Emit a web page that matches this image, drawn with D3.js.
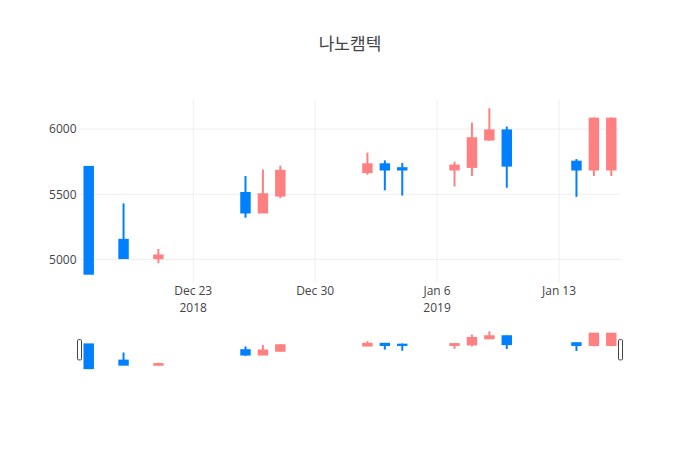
<!DOCTYPE html>
<html>
<head>
<meta charset="utf-8">
<script src="https://cdn.jsdelivr.net/npm/d3@7"></script>
<style>
  body { margin: 0; background: #fff; }
  svg text { font-family: "Open Sans", "Noto Sans CJK KR", sans-serif; fill: #444; }
</style>
</head>
<body>
<div id="chart"></div>
<script>
let dates = ["2018-12-17", "2018-12-19", "2018-12-21", "2018-12-26", "2018-12-27", "2018-12-28",
             "2019-01-02", "2019-01-03", "2019-01-04", "2019-01-07", "2019-01-08", "2019-01-09",
             "2019-01-10", "2019-01-14", "2019-01-15", "2019-01-16"];
let open  = [5710, 5150, 5010, 5510, 5360, 5490, 5670, 5730, 5700, 5690, 5710, 5920, 5990, 5750, 5690, 5690];
let high  = [5710, 5430, 5080, 5640, 5690, 5720, 5820, 5760, 5740, 5750, 6050, 6160, 6020, 5770, 6090, 6090];
let low   = [4890, 5010, 4970, 5320, 5360, 5470, 5650, 5530, 5490, 5560, 5640, 5910, 5550, 5480, 5640, 5640];
let close = [4890, 5010, 5030, 5360, 5500, 5680, 5730, 5690, 5690, 5720, 5930, 5990, 5720, 5690, 6080, 6080];

let yTicks = [5000, 5500, 6000];
let xTicks = ["2018-12-23", "2018-12-30", "2019-01-06", "2019-01-13"];
let xTickLabels = [["Dec 23", "2018"], ["Dec 30"], ["Jan 6", "2019"], ["Jan 13"]];

let title = "나노캠텍";

let width = 700, height = 450;
let margin = { left: 80, right: 80, top: 100 };
let plotBottom = 282;
let slider = { top: 329.5, bottom: 370 };

let incColor = "#ff8080", decColor = "#0080ff";

let parse = d3.utcParse("%Y-%m-%d");
let data = dates.map((d, i) => {
  return { date: parse(d), open: open[i], high: high[i], low: low[i], close: close[i] };
});

let svg = d3.select("#chart").append("svg")
  .attr("width", width)
  .attr("height", height);

// half a day of padding each side, like plotly
let first = d3.utcHour.offset(data[0].date, -12);
let last = d3.utcHour.offset(data[data.length - 1].date, 12);
let xScale = d3.scaleUtc()
  .domain([first, last])
  .range([margin.left, width - margin.right]);

let lo = d3.min(data, d => d.low), hi = d3.max(data, d => d.high);
let pad = (hi - lo) * 0.05;
let yScale = d3.scaleLinear()
  .domain([lo - pad, hi + pad])
  .range([plotBottom, margin.top]);
let ySlider = d3.scaleLinear()
  .domain([lo - pad, hi + pad])
  .range([slider.bottom, slider.top]);

let dayPx = xScale(d3.utcDay.offset(first, 1)) - xScale(first);
let boxW = dayPx * 0.6 - 2;

// title
svg.append("text")
  .attr("x", width / 2)
  .attr("y", 50)
  .attr("text-anchor", "middle")
  .style("font-size", "17px")
  .text(title);

// grid
let grid = svg.append("g");
grid.selectAll(".ygrid")
  .data(yTicks)
  .enter().append("line")
    .attr("x1", margin.left)
    .attr("x2", width - margin.right)
    .attr("y1", d => yScale(d))
    .attr("y2", d => yScale(d))
    .attr("stroke", "#eee");
grid.selectAll(".xgrid")
  .data(xTicks)
  .enter().append("line")
    .attr("x1", d => xScale(parse(d)))
    .attr("x2", d => xScale(parse(d)))
    .attr("y1", margin.top)
    .attr("y2", plotBottom)
    .attr("stroke", "#eee");

// y axis labels
let yAxis = d3.axisLeft(yScale)
  .tickValues(yTicks)
  .tickFormat(d3.format("d"))
  .tickSize(0)
  .tickPadding(3);
svg.append("g")
  .attr("transform", `translate(${ margin.left - 0.5 },0)`)
  .call(yAxis)
  .call(g => g.select(".domain").remove())
  .selectAll("text")
    .style("font-size", "12px")
    .attr("fill", "#444");

// x axis labels
let xLab = svg.append("g");
xTicks.forEach((t, i) => {
  let txt = xLab.append("text")
    .attr("x", xScale(parse(t)))
    .attr("y", 295)
    .attr("text-anchor", "middle")
    .style("font-size", "12px");
  xTickLabels[i].forEach((line, j) => {
    txt.append("tspan")
      .attr("x", xScale(parse(t)))
      .attr("dy", j == 0 ? 0 : 16.5)
      .text(line);
  });
});

svg.append("clipPath").attr("id", "plotclip")
  .append("rect")
    .attr("x", margin.left)
    .attr("y", margin.top)
    .attr("width", width - margin.left - margin.right)
    .attr("height", plotBottom - margin.top);

function drawCandles(g, y) {
  let c = g.selectAll(".candle")
    .data(data)
    .enter().append("g")
      .attr("class", "candle");
  let col = d => d.close >= d.open ? incColor : decColor;
  c.append("line")
    .attr("x1", d => xScale(d.date))
    .attr("x2", d => xScale(d.date))
    .attr("y1", d => y(d.high))
    .attr("y2", d => y(d.low))
    .attr("stroke", col)
    .attr("stroke-width", 2);
  c.append("rect")
    .attr("x", d => xScale(d.date) - boxW / 2)
    .attr("width", boxW)
    .attr("y", d => y(Math.max(d.open, d.close)))
    .attr("height", d => Math.abs(y(d.open) - y(d.close)))
    .attr("fill", col)
    .attr("stroke", col)
    .attr("stroke-width", 2);
}

let main = svg.append("g").attr("clip-path", "url(#plotclip)");
drawCandles(main, yScale);

// range slider
let rs = svg.append("g");
drawCandles(rs, ySlider);

let handleH = (slider.bottom - slider.top) / 2;
[margin.left - 0.5, width - margin.right + 0.5].forEach(hx => {
  rs.append("rect")
    .attr("x", hx - 2)
    .attr("y", slider.top + handleH / 2)
    .attr("width", 4)
    .attr("height", handleH)
    .attr("rx", 1)
    .attr("fill", "#fff")
    .attr("stroke", "#444")
    .attr("stroke-width", 1);
});
</script>
</body>
</html>
